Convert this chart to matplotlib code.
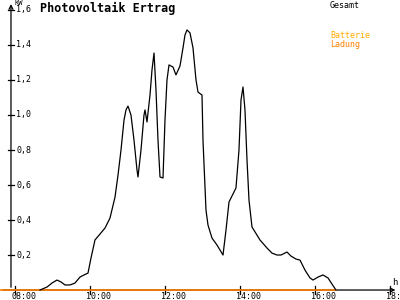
import matplotlib
matplotlib.use("Agg")
import matplotlib.pyplot as plt


# Gesamt curve: time in hours, power in kW
hours = [
    8.667, 8.853, 8.987, 9.12, 9.227, 9.333, 9.467, 9.6, 9.733, 9.84,
    9.947, 10.027, 10.133, 10.267, 10.4, 10.533, 10.667, 10.747, 10.827, 10.907,
    10.96, 11.013, 11.093, 11.173, 11.253, 11.28, 11.36, 11.44, 11.467, 11.52,
    11.6, 11.653, 11.707, 11.76, 11.813, 11.867, 11.947, 12.0, 12.053, 12.107,
    12.213, 12.293, 12.4, 12.48, 12.533, 12.587, 12.667, 12.747, 12.827, 12.88,
    12.987, 13.013, 13.093, 13.147, 13.253, 13.387, 13.547, 13.627, 13.707, 13.893,
    13.973, 14.027, 14.08, 14.133, 14.187, 14.24, 14.32, 14.533, 14.72, 14.853,
    14.987, 15.093, 15.253, 15.36, 15.493, 15.6, 15.733, 15.867, 15.947, 16.08,
    16.213, 16.347, 16.453, 16.56,
]
gesamt_kw = [
    0.0, 0.017, 0.04, 0.057, 0.046, 0.029, 0.029, 0.04, 0.074, 0.086,
    0.097, 0.183, 0.286, 0.32, 0.354, 0.411, 0.531, 0.657, 0.8, 0.971,
    1.029, 1.051, 1.0, 0.857, 0.686, 0.646, 0.8, 1.0, 1.029, 0.96,
    1.114, 1.257, 1.354, 1.143, 0.857, 0.646, 0.64, 0.971, 1.2, 1.286,
    1.274, 1.229, 1.28, 1.383, 1.457, 1.486, 1.469, 1.383, 1.2, 1.131,
    1.114, 0.857, 0.457, 0.371, 0.297, 0.257, 0.2, 0.343, 0.503, 0.583,
    0.8, 1.086, 1.16, 1.029, 0.743, 0.514, 0.36, 0.286, 0.24, 0.211,
    0.2, 0.2, 0.217, 0.194, 0.177, 0.171, 0.114, 0.069, 0.057, 0.074,
    0.086, 0.069, 0.034, 0.0,
]

# Ladung stays at zero the whole day
ladung_hours = [7.6, 16.56]
ladung_kw = [0.0, 0.0]

x_ticks = [8, 10, 12, 14, 16, 18]
x_labels = ["08:00", "10:00", "12:00", "14:00", "16:00", "18:00"]
y_ticks = [0.2, 0.4, 0.6, 0.8, 1.0, 1.2, 1.4, 1.6]
y_labels = ["0,2", "0,4", "0,6", "0,8", "1,0", "1,2", "1,4", "1,6"]

MONO = "DejaVu Sans Mono"
BATTERIE_COLOR = "#ffaa00"
LADUNG_COLOR = "#ff8000"

fig = plt.figure(figsize=(4, 3), dpi=100)
ax = fig.add_axes([0, 0, 1, 1])
ax.set_xlim(7.6, 18.267)
ax.set_ylim(-0.057, 1.657)
ax.axis("off")

y_axis_x = 7.893

# axes lines with arrows
ax.annotate("", xy=(18.22, 0), xytext=(7.6, 0),
            arrowprops=dict(arrowstyle="->", lw=0.9, color="black", mutation_scale=7))
ax.annotate("", xy=(y_axis_x, 1.65), xytext=(y_axis_x, 0),
            arrowprops=dict(arrowstyle="->", lw=0.9, color="black", mutation_scale=7))

for t, lab in zip(x_ticks, x_labels):
    ax.plot([t, t], [0.023, -0.023], color="black", lw=0.9)
    ax.text(t - 0.1, -0.036, lab, fontsize=6, family=MONO, ha="left", va="center")

for v, lab in zip(y_ticks, y_labels):
    ax.plot([7.813, 7.973], [v, v], color="black", lw=0.9)
    ax.text(8.03, v, lab, fontsize=6, family=MONO, ha="left", va="center")

ax.text(8.0, 1.638, "KW", fontsize=5, family=MONO, ha="left", va="center")
ax.text(18.05, 0.045, "h", fontsize=6.5, family=MONO, ha="left", va="center")

ax.plot(ladung_hours, ladung_kw, color=LADUNG_COLOR, lw=1.2, zorder=5)
ax.plot(hours, gesamt_kw, color="black", lw=0.9, zorder=6)

ax.text(8.67, 1.61, "Photovoltaik Ertrag", fontsize=8.5, family=MONO,
        fontweight="bold", ha="left", va="center")
ax.text(16.4, 1.628, "Gesamt", fontsize=6, family=MONO, ha="left", va="center")
ax.text(16.4, 1.452, "Batterie", fontsize=6, family=MONO, color=BATTERIE_COLOR,
        ha="left", va="center")
ax.text(16.4, 1.405, "Ladung", fontsize=6, family=MONO, color=LADUNG_COLOR,
        ha="left", va="center")

fig.savefig("out.png", dpi=100)
